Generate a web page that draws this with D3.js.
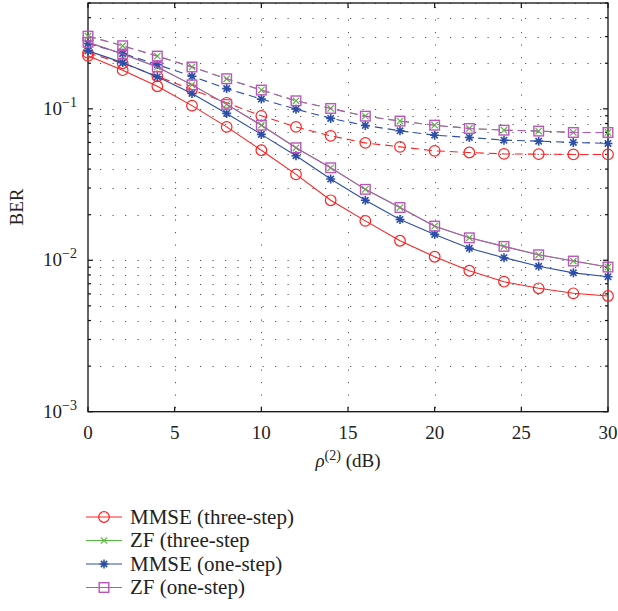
<!DOCTYPE html>
<html lang="en">
<head>
  <meta charset="utf-8">
  <title>BER vs rho</title>
  <script src="https://d3js.org/d3.v7.min.js"></script>
  <style>
    body { margin: 0; background: #fff; }
    text { font-family: "Liberation Serif", "DejaVu Serif", serif; fill: #222; }
  </style>
</head>
<body>
<div id="chart"></div>
<script>
  // snr points (dB)
  var snr = [0, 2, 4, 6, 8, 10, 12, 14, 16, 18, 20, 22, 24, 26, 28, 30];

  // solid curves
  var mmse3Solid = [0.224, 0.18, 0.141, 0.105, 0.076, 0.0533, 0.0369, 0.0249, 0.0182, 0.01346, 0.01055, 0.00853, 0.00722, 0.00653, 0.00605, 0.00581];
  var zf3Solid   = [0.275, 0.23, 0.189, 0.144, 0.107, 0.078, 0.0553, 0.0408, 0.0294, 0.0223, 0.0168, 0.01407, 0.01235, 0.01087, 0.00988, 0.00902];
  var mmse1Solid = [0.2415, 0.202, 0.1626, 0.1264, 0.0933, 0.0678, 0.049, 0.0344, 0.0249, 0.0186, 0.01482, 0.01199, 0.0104, 0.00912, 0.00826, 0.00778];
  var zf1Solid   = [0.275, 0.23, 0.189, 0.144, 0.107, 0.078, 0.0553, 0.0408, 0.0294, 0.0223, 0.0168, 0.01407, 0.01235, 0.01087, 0.00988, 0.00902];

  // dashed curves
  var mmse3Dash = [0.234, 0.2, 0.164, 0.134, 0.1096, 0.0899, 0.076, 0.0663, 0.0596, 0.0561, 0.0528, 0.0515, 0.0504, 0.0502, 0.0500, 0.0500];
  var zf3Dash   = [0.302, 0.261, 0.223, 0.189, 0.158, 0.133, 0.113, 0.1006, 0.0895, 0.083, 0.078, 0.0742, 0.0723, 0.0713, 0.0698, 0.0698];
  var mmse1Dash = [0.270, 0.232, 0.196, 0.164, 0.136, 0.116, 0.0995, 0.0865, 0.0777, 0.0716, 0.067, 0.0647, 0.0621, 0.0612, 0.060, 0.0591];
  var zf1Dash   = [0.302, 0.261, 0.223, 0.189, 0.158, 0.133, 0.113, 0.1006, 0.0895, 0.083, 0.078, 0.0742, 0.0723, 0.0713, 0.0698, 0.0698];

  var legendNames = ["MMSE (three-step)", "ZF (three-step", "MMSE (one-step)", "ZF (one-step)"];
  var xTicks = [0, 5, 10, 15, 20, 25, 30];
  var yMajor = [-3, -2, -1];

  var colors = { mmse3: "#f22", zf3: "#55bb3a", mmse1: "#2c4ea6", zf1: "#bb55bb" };

  var series = [
    { name: "mmse3", dash: true,  vals: mmse3Dash,  marker: "circle" },
    { name: "mmse3", dash: false, vals: mmse3Solid, marker: "circle" },
    { name: "zf3",   dash: true,  vals: zf3Dash,    marker: "cross" },
    { name: "zf3",   dash: false, vals: zf3Solid,   marker: "cross" },
    { name: "mmse1", dash: true,  vals: mmse1Dash,  marker: "star" },
    { name: "mmse1", dash: false, vals: mmse1Solid, marker: "star" },
    { name: "zf1",   dash: true,  vals: zf1Dash,    marker: "square" },
    { name: "zf1",   dash: false, vals: zf1Solid,   marker: "square" }
  ];

  var W = 618, H = 611;
  var pLeft = 88, pRight = 608, pTop = 3, pBottom = 411.7;

  var svg = d3.select("#chart").append("svg")
    .attr("width", W).attr("height", H);

  var x = d3.scaleLinear().domain([0, 30]).range([pLeft, pRight]);
  var y = d3.scaleLog().domain([1e-3, 0.5]).range([pBottom, pTop]);

  // minor log values
  var minors = [];
  [-3, -2, -1].forEach(function (e) {
    for (var k = 2; k <= 9; k++) {
      var v = k * Math.pow(10, e);
      if (v <= 0.5) minors.push(v);
    }
  });

  // grid
  var grid = svg.append("g").attr("stroke", "#555").attr("stroke-width", 1)
    .attr("stroke-dasharray", "1.2,11.3");
  grid.selectAll(".hg").data(minors.concat([1e-2, 1e-1]))
    .enter().append("line")
    .attr("x1", pLeft + 12).attr("x2", pRight)
    .attr("y1", function (d) { return Math.round(y(d)) + 0.5; })
    .attr("y2", function (d) { return Math.round(y(d)) + 0.5; });
  grid.selectAll(".vg").data(xTicks.slice(1, -1))
    .enter().append("line")
    .attr("x1", function (d) { return Math.round(x(d)) + 0.5; })
    .attr("x2", function (d) { return Math.round(x(d)) + 0.5; })
    .attr("y1", pTop + 4).attr("y2", pBottom);

  // frame
  svg.append("rect").attr("x", pLeft).attr("y", pTop)
    .attr("width", pRight - pLeft).attr("height", pBottom - pTop)
    .attr("fill", "none").attr("stroke", "#111").attr("stroke-width", 1.3);

  // ticks
  var tk = svg.append("g").attr("stroke", "#111").attr("stroke-width", 1.2);
  xTicks.forEach(function (d) {
    tk.append("line").attr("x1", x(d)).attr("x2", x(d)).attr("y1", pBottom).attr("y2", pBottom - 5);
    tk.append("line").attr("x1", x(d)).attr("x2", x(d)).attr("y1", pTop).attr("y2", pTop + 5);
  });
  yMajor.forEach(function (e) {
    var v = Math.pow(10, e);
    tk.append("line").attr("x1", pLeft).attr("x2", pLeft + 5).attr("y1", y(v)).attr("y2", y(v));
    tk.append("line").attr("x1", pRight).attr("x2", pRight - 5).attr("y1", y(v)).attr("y2", y(v));
  });
  minors.forEach(function (v) {
    tk.append("line").attr("x1", pLeft).attr("x2", pLeft + 3).attr("y1", y(v)).attr("y2", y(v));
    tk.append("line").attr("x1", pRight).attr("x2", pRight - 3).attr("y1", y(v)).attr("y2", y(v));
  });

  // tick labels
  svg.append("g").selectAll("text").data(xTicks).enter().append("text")
    .attr("x", function (d) { return x(d); })
    .attr("y", 439)
    .attr("text-anchor", "middle")
    .attr("font-size", 19)
    .text(function (d) { return d; });

  yMajor.forEach(function (e) {
    var t = svg.append("text").attr("x", 43).attr("y", y(Math.pow(10, e)) + 6)
      .attr("font-size", 19).attr("text-anchor", "start");
    t.append("tspan").text("10");
    t.append("tspan").attr("dy", -8).attr("font-size", 14).text("\u2212" + (-e));
  });

  // axis titles
  var xl = svg.append("text").attr("x", 348).attr("y", 467)
    .attr("text-anchor", "middle").attr("font-size", 19);
  xl.append("tspan").attr("font-style", "italic").text("\u03c1");
  xl.append("tspan").attr("dy", -7).attr("font-size", 14).text("(2)");
  xl.append("tspan").attr("dy", 7).text(" (dB)");

  svg.append("text")
    .attr("transform", "translate(23,207) rotate(-90)")
    .attr("text-anchor", "middle").attr("font-size", 19)
    .text("BER");

  // markers
  function drawMarker(g, type, cx, cy, col) {
    if (type === "circle") {
      g.append("circle").attr("cx", cx).attr("cy", cy).attr("r", 5.3)
        .attr("fill", "none").attr("stroke", col).attr("stroke-width", 1.2);
    } else if (type === "cross") {
      var s = 3.2;
      g.append("path").attr("d", "M" + (cx - s) + "," + (cy - s) + "L" + (cx + s) + "," + (cy + s) +
        "M" + (cx - s) + "," + (cy + s) + "L" + (cx + s) + "," + (cy - s))
        .attr("stroke", col).attr("stroke-width", 1.2);
    } else if (type === "star") {
      var r = 4.5, d = "";
      for (var i = 0; i < 4; i++) {
        var a = i * Math.PI / 4;
        d += "M" + (cx - r * Math.cos(a)) + "," + (cy - r * Math.sin(a)) +
          "L" + (cx + r * Math.cos(a)) + "," + (cy + r * Math.sin(a));
      }
      g.append("path").attr("d", d).attr("stroke", col).attr("stroke-width", 1.6);
    } else if (type === "square") {
      g.append("rect").attr("x", cx - 4.8).attr("y", cy - 4.8).attr("width", 9.6).attr("height", 9.6)
        .attr("fill", "none").attr("stroke", col).attr("stroke-width", 1.4);
    }
  }

  var line = d3.line()
    .x(function (d, i) { return x(snr[i]); })
    .y(function (d) { return y(d); });

  series.forEach(function (s) {
    var g = svg.append("g");
    var col = colors[s.name];
    g.append("path").datum(s.vals)
      .attr("d", line)
      .attr("fill", "none")
      .attr("stroke", col)
      .attr("stroke-width", 1.1)
      .attr("stroke-dasharray", s.dash ? "8,5" : null);
    s.vals.forEach(function (v, i) {
      drawMarker(g, s.marker, x(snr[i]), y(v), col);
    });
  });

  // legend
  var legKeys = ["mmse3", "zf3", "mmse1", "zf1"];
  var legMarkers = ["circle", "cross", "star", "square"];
  var leg = svg.append("g");
  legKeys.forEach(function (k, i) {
    var ly = 517 + i * 23.5;
    leg.append("line").attr("x1", 86).attr("x2", 122).attr("y1", ly).attr("y2", ly)
      .attr("stroke", colors[k]).attr("stroke-width", 1.1);
    drawMarker(leg, legMarkers[i], 104, ly, colors[k]);
    leg.append("text").attr("x", 130).attr("y", ly + 6.5).attr("font-size", 21)
      .text(legendNames[i]);
  });
</script>
</body>
</html>
